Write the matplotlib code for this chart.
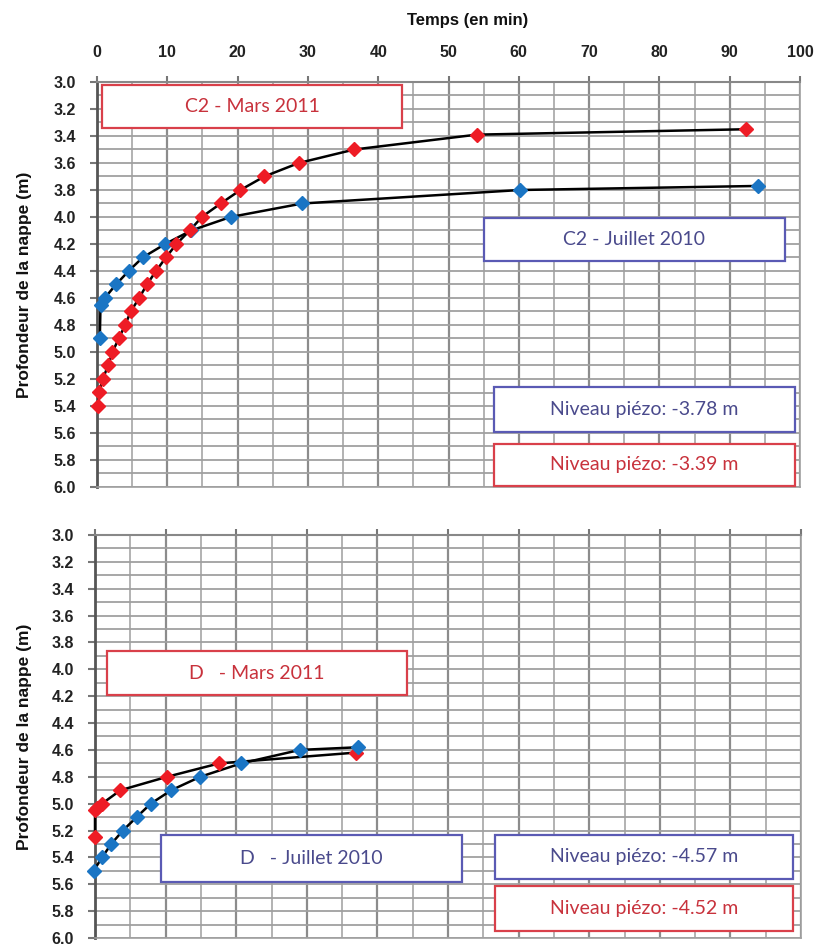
import matplotlib
matplotlib.use("Agg")
import matplotlib.pyplot as plt
from matplotlib.patches import Rectangle
from matplotlib.ticker import MultipleLocator

# ---- Data ----
c2_mars_t = [0.2, 0.3, 0.8, 1.6, 2.2, 3.1, 4.0, 4.8, 6.0, 7.1, 8.4, 9.8, 11.3, 13.2, 14.9, 17.6, 20.4, 23.8, 28.7, 36.6, 54.0, 92.3]
c2_mars_d = [5.4, 5.3, 5.2, 5.1, 5.0, 4.9, 4.8, 4.7, 4.6, 4.5, 4.4, 4.3, 4.2, 4.1, 4.0, 3.9, 3.8, 3.7, 3.6, 3.5, 3.39, 3.35]
c2_juil_t = [0.4, 0.5, 1.1, 2.7, 4.5, 6.5, 9.7, 13.4, 19.0, 29.2, 60.2, 94.0]
c2_juil_d = [4.9, 4.65, 4.6, 4.5, 4.4, 4.3, 4.2, 4.1, 4.0, 3.9, 3.8, 3.77]
d_mars_t = [0.0, 0.0, 0.3, 1.0, 3.6, 10.2, 17.6, 36.9]
d_mars_d = [5.25, 5.05, 5.03, 5.0, 4.9, 4.8, 4.7, 4.62]
d_juil_t = [-0.2, 1.0, 2.3, 3.95, 5.9, 7.9, 10.8, 14.9, 20.7, 29.0, 37.3]
d_juil_d = [5.5, 5.4, 5.3, 5.2, 5.1, 5.0, 4.9, 4.8, 4.7, 4.6, 4.58]

x_ticks = [0, 10, 20, 30, 40, 50, 60, 70, 80, 90, 100]
y_ticks = [3.0, 3.2, 3.4, 3.6, 3.8, 4.0, 4.2, 4.4, 4.6, 4.8, 5.0, 5.2, 5.4, 5.6, 5.8, 6.0]

top_labels = [("C2 - Mars 2011", "red", (0.007, 0.886, 0.427, 0.106)),
              ("C2 - Juillet 2010", "blue", (0.5505, 0.557, 0.428, 0.107)),
              ("Niveau piézo: -3.78 m", "blue", (0.565, 0.137, 0.428, 0.109)),
              ("Niveau piézo: -3.39 m", "red", (0.565, 0.002, 0.428, 0.105))]
bot_labels = [("D   - Mars 2011", "red", (0.017, 0.602, 0.425, 0.111)),
              ("D   - Juillet 2010", "blue", (0.0935, 0.14, 0.4265, 0.116)),
              ("Niveau piézo: -4.57 m", "blue", (0.567, 0.147, 0.422, 0.109)),
              ("Niveau piézo: -4.52 m", "red", (0.567, 0.017, 0.422, 0.111))]

RED_M = "#ee1c25"
BLUE_M = "#1a75c4"
TXT = {"red": ("#c8323c", "#d9404a"), "blue": ("#4a4a8c", "#5a5ab4")}

plt.rcParams['font.family'] = ['Liberation Sans Narrow', 'Liberation Sans', 'DejaVu Sans']

fig = plt.figure(figsize=(8.18, 9.49), dpi=100)
ax1 = fig.add_axes([97/818, 1-487/949, 703/818, 405/949])
ax2 = fig.add_axes([95/818, 1-938/949, 706/818, 403/949])


def style(ax, show_xlabels, lx):
    ax.set_xlim(0, 100)
    ax.set_ylim(6.0, 3.0)
    ax.xaxis.tick_top()
    ax.set_xticks(x_ticks)
    ax.xaxis.set_minor_locator(MultipleLocator(5))
    ax.set_yticks(y_ticks)
    ax.yaxis.set_minor_locator(MultipleLocator(0.1))
    ax.set_yticklabels([f"{v:.1f}" for v in y_ticks], fontsize=11.5, fontweight='bold',
                       color='#222222')
    if show_xlabels:
        ax.set_xticklabels([str(v) for v in x_ticks], fontsize=11.5, fontweight='bold',
                           color='#222222')
    else:
        ax.set_xticklabels([])
    ax.tick_params(axis='y', which='major', length=5, color='#777777', width=1.5, pad=10)
    ax.tick_params(axis='x', which='major', length=4, color='#777777', width=1.5, pad=12)
    ax.tick_params(axis='both', which='minor', length=0)
    ax.grid(True, which='major', axis='x', color='#8c8c8c', lw=1.6)
    ax.grid(True, which='minor', axis='x', color='#a6a6a6', lw=1.2)
    ax.grid(True, which='both', axis='y', color='#a0a0a0', lw=1.3)
    ax.set_axisbelow(True)
    for s in ['right', 'bottom']:
        ax.spines[s].set_color('#a0a0a0')
        ax.spines[s].set_linewidth(1.2)
    ax.spines['left'].set_color('#555555')
    ax.spines['left'].set_linewidth(2.0)
    ax.spines['top'].set_color('#888888')
    ax.spines['top'].set_linewidth(1.5)
    ax.set_ylabel("Profondeur de la nappe (m)", fontsize=12.5, fontweight='bold',
                  family=['Liberation Sans', 'DejaVu Sans'], color='#111111')
    ax.yaxis.set_label_coords(lx, 0.5)


def labels(ax, items):
    for text, c, (x, y, w, h) in items:
        tc, ec = TXT[c]
        ax.add_patch(Rectangle((x, y), w, h, transform=ax.transAxes, facecolor='white',
                               edgecolor=ec, lw=1.6, zorder=5, clip_on=False))
        ax.text(x + w/2, y + h/2, text, transform=ax.transAxes, ha='center', va='center',
                color=tc, fontsize=14, zorder=6, family=['Lato', 'DejaVu Sans'])


def series(ax, t, d, col):
    ax.plot(t, d, color='black', lw=1.8, zorder=3, clip_on=False)
    ax.plot(t, d, linestyle='none', marker='D', ms=7.5, color=col, mec=col, zorder=4, clip_on=False)


style(ax1, True, -0.093)
style(ax2, False, -0.089)
series(ax1, c2_juil_t, c2_juil_d, BLUE_M)
series(ax1, c2_mars_t, c2_mars_d, RED_M)
series(ax2, d_mars_t, d_mars_d, RED_M)
series(ax2, d_juil_t, d_juil_d, BLUE_M)
labels(ax1, top_labels)
labels(ax2, bot_labels)

fig.text(468/818, 1-20/949, "Temps (en min)", ha='center', va='center', fontsize=12,
         fontweight='bold', family=['Liberation Sans', 'DejaVu Sans'], color='#111111')

fig.savefig("out.png", dpi=100)
